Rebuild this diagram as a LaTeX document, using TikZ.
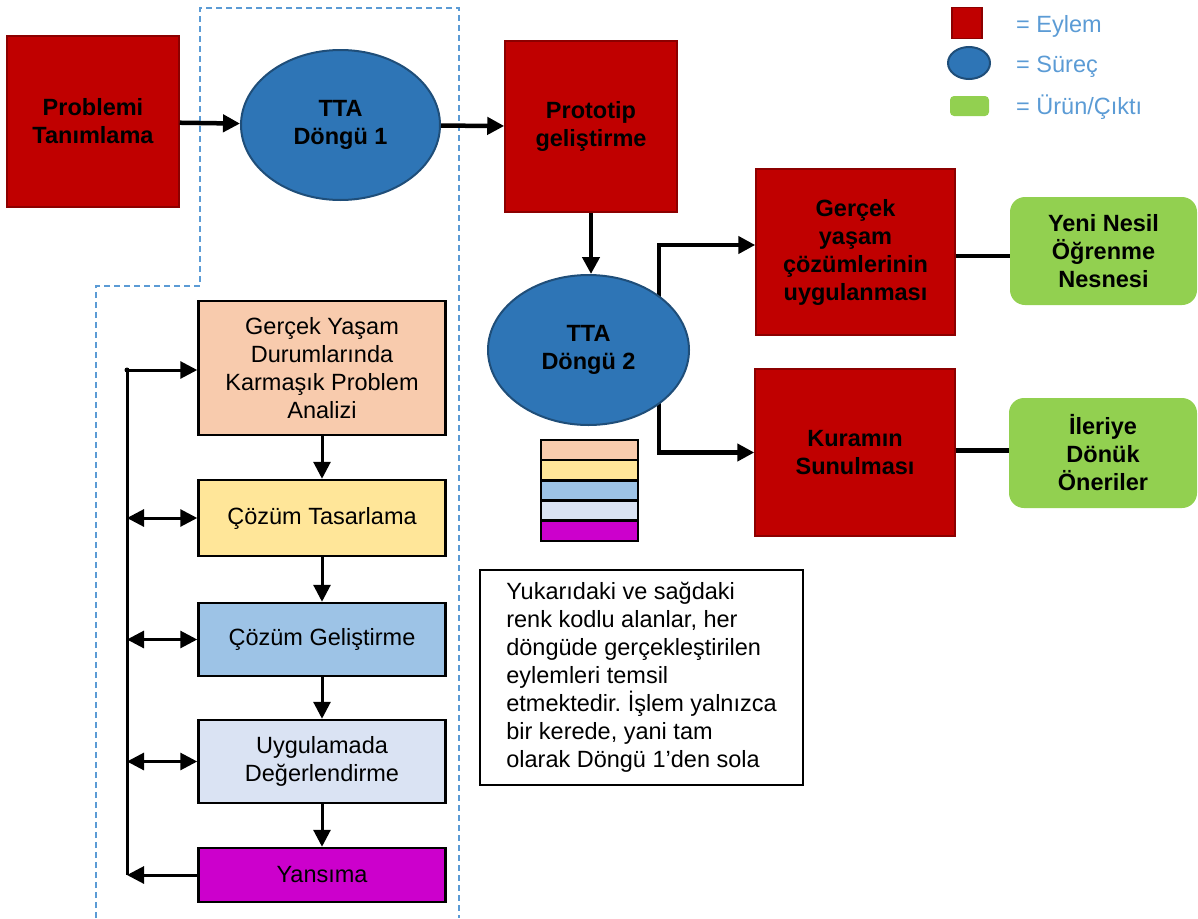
\documentclass[tikz,border=0pt]{standalone}
\usepackage{fontspec}
\setmainfont{Liberation Sans}
\usetikzlibrary{arrows.meta,shapes.geometric}
\frenchspacing
\definecolor{eylem}{RGB}{192,0,0}
\definecolor{eylemcizgi}{RGB}{140,0,0}
\definecolor{surec}{RGB}{46,117,182}
\definecolor{sureccizgi}{RGB}{31,78,121}
\definecolor{urun}{RGB}{146,208,80}
\definecolor{kesik}{RGB}{91,155,213}
\definecolor{analizc}{RGB}{248,203,173}
\definecolor{tasarc}{RGB}{255,230,153}
\definecolor{gelisc}{RGB}{157,195,230}
\definecolor{uygc}{RGB}{218,227,243}
\definecolor{yansc}{RGB}{204,0,204}

\begin{document}
\begin{tikzpicture}[x=1pt,y=-1pt]
\tikzstyle{every node}=[font=\fontsize{23.5}{28}\selectfont, align=center, inner sep=0pt]
\tikzstyle{eylembox}=[fill=eylem, draw=eylemcizgi, line width=1.5pt, font=\fontsize{23.5}{28}\selectfont\bfseries]
\tikzstyle{surecell}=[ellipse, fill=surec, draw=sureccizgi, line width=2pt, font=\fontsize{23.5}{28}\selectfont\bfseries]
\tikzstyle{urunbox}=[fill=urun, rounded corners=15pt, font=\fontsize{23.5}{28}\selectfont\bfseries]
\tikzstyle{adimbox}=[draw=black, line width=2.5pt, minimum width=247pt]
\tikzstyle{kalin}=[line width=4.5pt, -{Triangle[length=17pt,width=17pt]}]
\tikzstyle{ince}=[line width=3pt, -{Triangle[length=17pt,width=17pt]}]
\tikzstyle{ikiyon}=[line width=3pt, {Triangle[length=17pt,width=17pt]}-{Triangle[length=17pt,width=17pt]}]
\useasboundingbox (0,0) rectangle (1198,918);

% dashed frame of cycle 1
\draw[kesik, line width=2pt, dash pattern=on 6pt off 4pt] (96,918) -- (96,286) -- (200,286) -- (200,8) -- (459,8) -- (459,918);

% top row
\node[eylembox, minimum width=172pt, minimum height=171pt] (problem) at (93,121.5) {Problemi\\Tanımlama};
\node[surecell, minimum width=199pt, minimum height=150pt] (dongu1) at (340.5,125) {TTA\\Döngü 1};
\node[eylembox, minimum width=172pt, minimum height=171pt] (prototip) at (591,126.5) {Prototip\\geliştirme};
\draw[kalin] (problem) -- (dongu1);
\draw[kalin] (dongu1) -- (prototip);

% right part
\node[eylembox, minimum width=199pt, minimum height=166pt] (gercek) at (855.5,252) {Gerçek\\yaşam\\çözümlerinin\\uygulanması};
\node[eylembox, minimum width=200pt, minimum height=167pt] (kuram) at (855,452.5) {Kuramın\\Sunulması};
\node[urunbox, minimum width=187pt, minimum height=108pt] (yeninesil) at (1103.5,251) {Yeni Nesil\\Öğrenme\\Nesnesi};
\node[urunbox, minimum width=188pt, minimum height=110pt] (ileriye) at (1103,453) {İleriye\\Dönük\\Öneriler};
\draw[line width=4.5pt] ([yshift=-4pt]gercek.east) -- ([yshift=-4pt]gercek.east -| yeninesil.west);
\draw[line width=4.5pt] ([yshift=2pt]kuram.east) -- ([yshift=2pt]kuram.east -| ileriye.west);

\coordinate (kol) at (659,350);
\draw[kalin] (kol) |- ([yshift=7pt]gercek.west);
\draw[kalin] (kol) |- (kuram.west);
\node[surecell, minimum width=201pt, minimum height=150pt] (dongu2) at (588.5,350) {TTA\\Döngü 2};
\draw[kalin] (prototip.south) -- (prototip.south |- dongu2.north);

% colour key of the steps
\foreach \renk [count=\i] in {analizc,tasarc,gelisc,uygc,yansc}
  \node[draw=black, line width=2.5pt, fill=\renk, minimum width=97pt, minimum height=20pt] (renk\i) at (589.5,429.8+20.2*\i) {};

% note
\node[draw=black, line width=2pt, minimum width=323pt, minimum height=215pt, align=left] (not) at (641.5,677.5)
  {Yukarıdaki ve sağdaki\\renk kodlu alanlar, her\\döngüde gerçekleştirilen\\eylemleri temsil\\etmektedir. İşlem yalnızca\\bir kerede, yani tam\\olarak Döngü 1’den sola};

% legend
\node[fill=eylem, draw=eylemcizgi, line width=1.5pt, minimum width=30pt, minimum height=31pt] (leylem) at (967,23) {};
\node[ellipse, fill=surec, draw=sureccizgi, line width=2pt, minimum width=42pt, minimum height=32pt] (lsurec) at (969,63) {};
\node[fill=urun, rounded corners=4pt, minimum width=39pt, minimum height=20pt] (lurun) at (969.5,106) {};
\node[anchor=base west, text=kesik] (teylem) at (1016,32) {= Eylem};
\node[anchor=base west, text=kesik] (tsurec) at (1016,72) {= Süreç};
\node[anchor=base west, text=kesik] (turun) at (1016,114) {= Ürün/Çıktı};

% steps of a cycle
\node[adimbox, fill=analizc, minimum height=134pt] (analiz) at (322,368) {Gerçek Yaşam\\Durumlarında\\Karmaşık Problem\\Analizi};
\node[adimbox, fill=tasarc, minimum height=76pt] (tasarla) at (322,518) {Çözüm Tasarlama};
\node[adimbox, fill=gelisc, minimum height=73pt] (gelistir) at (322,639.5) {Çözüm Geliştirme};
\node[adimbox, fill=uygc, minimum height=83pt] (uygula) at (322,761.5) {Uygulamada\\Değerlendirme};
\node[adimbox, fill=yansc, minimum height=54pt] (yansima) at (322,875) {Yansıma};
\draw[ince] (analiz) -- (tasarla);
\draw[ince] (tasarla) -- (gelistir);
\draw[ince] (gelistir) -- (uygula);
\draw[ince] (uygula) -- (yansima);

% feedback line
\coordinate (geritop) at (127,370);
\coordinate (geritab) at (127,875);
\fill (geritop) circle (2.5pt);
\draw[line width=3pt] (geritop) -- (geritab);
\draw[ince] (geritop) -- (geritop -| analiz.west);
\draw[ikiyon] (tasarla.west -| geritop) -- (tasarla.west);
\draw[ikiyon] (gelistir.west -| geritop) -- (gelistir.west);
\draw[ikiyon] (uygula.west -| geritop) -- (uygula.west);
\draw[ince] (yansima) -- (geritab);
\end{tikzpicture}
\end{document}
